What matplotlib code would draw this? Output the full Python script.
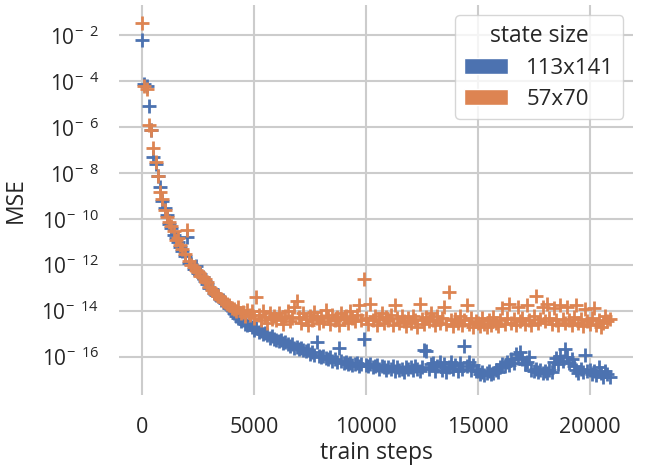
import numpy as np
import matplotlib
matplotlib.use("Agg")
import matplotlib.pyplot as plt
import seaborn as sns
from matplotlib.patches import Patch
from matplotlib.ticker import FuncFormatter

# train steps (logged every 100 steps)
steps = np.arange(0, 21000, 100)

# log10(MSE), state size 113x141
log_mse_113 = [
    -2.2, -4.1, -4.2, -5.06, -6.1, -7.3, -7.6, -8.1, -8.6, -9.2,
    -9.5, -9.8, -10.2, -10.4, -10.7, -10.8, -11.0, -11.2, -11.4, -11.6,
    -10.76, -11.9, -11.95, -12.15, -12.05, -12.35, -12.4, -12.5, -12.7, -12.8,
    -13.0, -13.05, -13.2, -13.3, -13.35, -13.5, -13.5, -13.65, -13.75, -13.85,
    -13.95, -14.1, -14.2, -14.3, -14.45, -14.4, -14.55, -14.6, -14.55, -14.7,
    -14.8, -14.75, -14.9, -14.85, -15.0, -14.95, -15.05, -15.15, -15.1, -15.2,
    -15.25, -15.3, -15.25, -15.4, -15.35, -15.45, -15.5, -15.45, -15.6, -15.55,
    -15.65, -15.6, -15.7, -15.75, -15.7, -15.85, -15.8, -15.9, -15.35, -15.95,
    -16.0, -15.95, -16.05, -16.1, -16.0, -16.15, -16.1, -16.2, -15.6, -16.15,
    -16.25, -16.2, -16.3, -16.25, -16.35, -16.3, -16.25, -16.4, -16.3, -15.2,
    -16.35, -16.4, -16.3, -16.45, -16.4, -16.35, -16.5, -16.4, -16.45, -16.55,
    -16.45, -16.5, -16.4, -16.6, -16.45, -16.55, -16.5, -16.65, -16.45, -16.5,
    -16.45, -16.55, -16.4, -16.5, -16.6, -16.45, -15.7, -15.75, -16.5, -16.3,
    -16.25, -16.6, -16.4, -16.2, -16.55, -16.3, -16.65, -16.45, -16.2, -16.5,
    -16.35, -16.6, -16.25, -16.5, -15.5, -16.4, -16.2, -16.55, -16.35, -16.6,
    -16.6, -16.75, -16.65, -16.8, -16.7, -16.6, -16.75, -16.7, -16.55, -16.65,
    -16.45, -16.3, -16.4, -16.2, -16.35, -16.1, -16.25, -15.85, -16.05, -15.8,
    -16.1, -16.3, -16.2, -16.0, -16.55, -16.6, -16.5, -16.65, -16.55, -16.7,
    -16.6, -16.7, -16.55, -16.65, -16.2, -16.05, -16.3, -15.95, -16.15, -15.67,
    -16.0, -16.25, -16.1, -16.4, -16.55, -16.7, -16.5, -16.65, -15.9, -16.6,
    -16.55, -16.75, -16.6, -16.8, -16.45, -16.7, -16.85, -16.6, -16.75, -16.88,
]

# log10(MSE), state size 57x70
log_mse_57 = [
    -1.45, -4.2, -4.35, -5.9, -6.1, -6.9, -7.5, -8.1, -8.8, -9.1,
    -9.6, -9.9, -10.1, -10.3, -10.5, -10.9, -10.8, -11.1, -11.3, -11.5,
    -10.45, -11.8, -12.0, -12.1, -12.2, -12.3, -12.45, -12.5, -12.6, -12.75,
    -12.95, -13.1, -13.2, -13.25, -13.35, -13.45, -13.55, -13.6, -13.7, -13.75,
    -13.85, -13.9, -14.0, -13.8, -14.1, -14.05, -14.2, -13.95, -14.15, -14.0,
    -14.3, -13.4, -14.15, -14.4, -14.0, -14.25, -14.5, -14.1, -14.35, -14.2,
    -14.4, -14.1, -14.3, -14.55, -14.2, -14.0, -14.45, -14.3, -13.8, -13.55,
    -14.25, -14.5, -14.1, -14.35, -14.6, -14.2, -14.4, -14.05, -14.3, -14.5,
    -14.2, -14.45, -13.95, -14.3, -14.55, -14.15, -14.4, -14.25, -14.6, -14.1,
    -14.35, -14.2, -14.5, -14.0, -14.3, -14.45, -14.15, -13.75, -14.4, -12.62,
    -14.3, -14.55, -13.7, -14.4, -14.2, -14.6, -14.35, -14.1, -14.5, -14.25,
    -14.4, -14.15, -14.6, -13.75, -14.3, -14.5, -14.2, -14.45, -14.65, -14.3,
    -14.5, -14.2, -14.4, -14.7, -13.7, -14.35, -14.55, -14.25, -14.45, -14.1,
    -14.4, -14.6, -14.2, -14.5, -14.3, -13.8, -14.55, -13.15, -14.4, -14.65,
    -14.35, -14.5, -14.2, -14.6, -14.4, -13.75, -14.55, -14.3, -14.7, -14.45,
    -14.5, -14.65, -14.3, -14.55, -14.7, -14.4, -14.6, -14.25, -14.5, -14.65,
    -14.4, -13.85, -14.55, -14.3, -13.7, -14.5, -14.35, -14.6, -13.8, -14.45,
    -14.3, -14.55, -13.75, -14.4, -14.6, -14.2, -13.35, -14.5, -14.35, -13.8,
    -14.45, -13.7, -14.3, -14.55, -13.85, -14.4, -14.6, -13.75, -14.35, -14.5,
    -13.8, -14.4, -14.6, -14.25, -13.75, -14.5, -14.35, -14.65, -13.9, -14.45,
    -14.55, -14.3, -13.85, -14.6, -14.4, -14.7, -14.5, -14.2, -14.45, -14.35,
]

labels = ["113x141", "57x70"]

sns.set_theme(style="whitegrid")
plt.rcParams['font.family'] = ['Open Sans', 'DejaVu Sans']
plt.rcParams['mathtext.fontset'] = 'custom'
plt.rcParams['mathtext.rm'] = 'Open Sans'
plt.rcParams['mathtext.it'] = 'Open Sans:italic'
plt.rcParams['mathtext.bf'] = 'Open Sans:bold'

colors = sns.color_palette("deep")[:2]
text_col = '#262626'


def pow_label(v, pos):
    n = int(round(np.log10(v)))
    return r"$10^{-\;\;%d}$" % (-n)


fig = plt.figure(figsize=(6.46, 4.65), dpi=100)
ax = fig.add_axes([0.184, 0.1505, 0.796, 0.8385])

ax.plot(steps, 10.0 ** np.array(log_mse_113), '+', color=colors[0],
        markersize=10, markeredgewidth=2)
ax.plot(steps, 10.0 ** np.array(log_mse_57), '+', color=colors[1],
        markersize=10, markeredgewidth=2)

ax.set_yscale('log')
ax.yaxis.set_major_formatter(FuncFormatter(pow_label))
ax.set_xticks([0, 5000, 10000, 15000, 20000])
ax.grid(True, color='#cccccc', linewidth=1.5)
for s in ax.spines.values():
    s.set_visible(False)
ax.tick_params(axis='x', labelsize=15.5, length=0, labelcolor=text_col, pad=16)
ax.tick_params(axis='y', labelsize=15, length=0, labelcolor=text_col, pad=14)

ax.set_xlabel("train steps", fontsize=16.5, color=text_col, labelpad=2)
ax.set_ylabel("MSE", fontsize=16.5, color=text_col, labelpad=10)

handles = [Patch(facecolor=c, edgecolor='white') for c in colors]
leg = ax.legend(handles, labels, title="state size", loc='upper right',
                fontsize=16, title_fontsize=16.5, handlelength=2.0,
                handleheight=0.75, labelspacing=0.45, frameon=True,
                borderaxespad=0.45)
leg.get_frame().set_edgecolor('#cccccc')
for t in leg.get_texts():
    t.set_color(text_col)
leg.get_title().set_color(text_col)

fig.savefig("out.png", dpi=100)
